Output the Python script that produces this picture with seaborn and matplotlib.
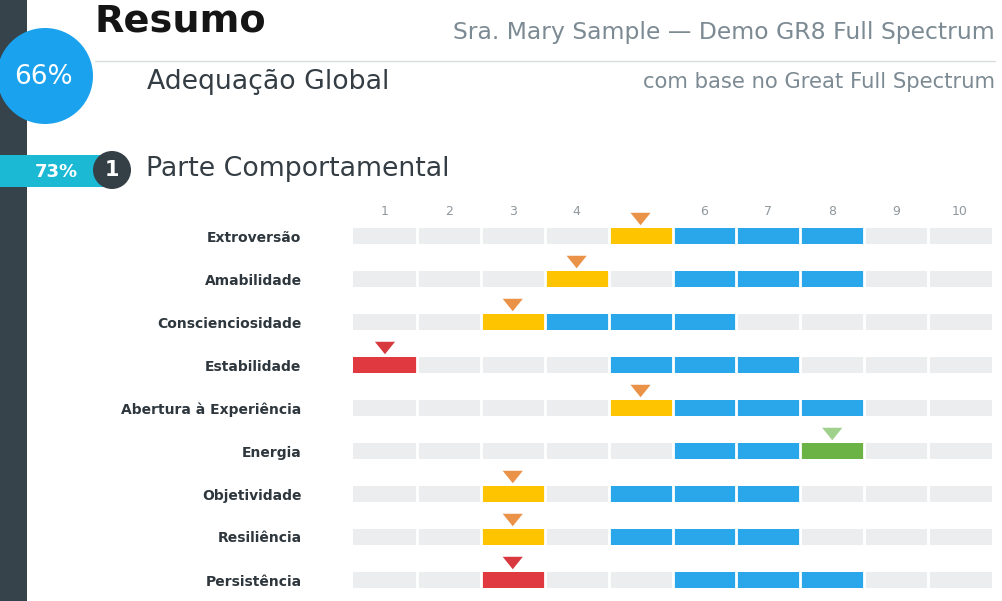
import numpy as np
import pandas as pd
import matplotlib.pyplot as plt
from matplotlib.patches import Circle, Rectangle
import seaborn as sns

# ---- data ----
traits = ['Extroversão', 'Amabilidade', 'Conscienciosidade', 'Estabilidade',
          'Abertura à Experiência', 'Energia', 'Objetividade', 'Resiliência',
          'Persistência']
scores = [5, 4, 3, 1, 5, 8, 3, 3, 3]
ideal_low = [6, 6, 4, 5, 6, 6, 5, 5, 6]
ideal_high = [8, 8, 6, 7, 8, 8, 7, 7, 8]
columns = list(range(1, 11))

overall_pct = '66%'
part_pct = '73%'

# colours
c_grey = '#EBEDEF'
c_blue = '#29A7EA'
c_status = {'ok': '#6BB344', 'near': '#FFC400', 'far': '#E03A40'}
c_tri = {'ok': '#A0D18C', 'near': '#EA9248', 'far': '#D8393F'}
c_dark = '#37434A'
c_text = '#343D43'
c_sub = '#7C8A93'


def status(score, lo, hi):
    d = max(lo - score, score - hi, 0)
    if d == 0:
        return 'ok'
    if d <= 2:
        return 'near'
    return 'far'


stat = [status(s, lo, hi) for s, lo, hi in zip(scores, ideal_low, ideal_high)]

sns.set_style('white')
plt.rcParams['font.family'] = ['DejaVu Sans']

fig = plt.figure(figsize=(10.02, 6.01), dpi=100)

# ---- header / decoration layer in pixel coordinates ----
deco = fig.add_axes([0, 0, 1, 1])
deco.set_xlim(0, 1002)
deco.set_ylim(601, 0)
deco.axis('off')

deco.add_patch(Rectangle((0, 0), 27, 601, color=c_dark, lw=0))
deco.add_patch(Circle((45, 76), 48, color='#1BA2EE', lw=0))
deco.text(43, 77, overall_pct, color='white', fontsize=19, ha='center', va='center')
deco.add_patch(Rectangle((0, 155), 106, 32, color='#1CB9D5', lw=0))
deco.text(56, 172, part_pct, color='white', fontsize=13, fontweight='bold',
          ha='center', va='center')
deco.add_patch(Circle((112, 170), 19, color='#353F46', lw=0))
deco.text(112, 170, '1', color='white', fontsize=15, fontweight='bold',
          ha='center', va='center')

deco.text(95, 22, 'Resumo', color='#151515', fontsize=27.5, fontweight='bold',
          ha='left', va='center')
deco.text(995, 32, 'Sra. Mary Sample — Demo GR8 Full Spectrum', color=c_sub,
          fontsize=16.9, ha='right', va='center')
deco.plot([95, 995], [61, 61], color='#D8DCDF', lw=1)
deco.text(147, 82, 'Adequação Global', color=c_text, fontsize=19.3,
          ha='left', va='center')
deco.text(995, 82, 'com base no Great Full Spectrum', color=c_sub,
          fontsize=15.2, ha='right', va='center')
deco.text(146, 169, 'Parte Comportamental', color=c_text, fontsize=19.3,
          ha='left', va='center')

# ---- chart ----
ax = fig.add_axes([353 / 1002, 0, 639 / 1002, (601 - 196) / 601])
ax.set_facecolor('none')

# draw cells from the right so each shorter bar paints the cell at its end
for k in columns[::-1]:
    pal = {}
    for t, s, lo, hi, st in zip(traits, scores, ideal_low, ideal_high, stat):
        if k == s:
            pal[t] = c_status[st]
        elif lo <= k <= hi:
            pal[t] = c_blue
        else:
            pal[t] = c_grey
    df = pd.DataFrame({'trait': traits, 'len': [k] * len(traits)})
    sns.barplot(data=df, x='len', y='trait', hue='trait', palette=pal,
                width=0.37, saturation=1, legend=False, ax=ax, linewidth=0)

# white gaps between cells
ax.vlines(columns[:-1], -1, len(traits), color='white', lw=2, zorder=3)

# score markers
tri = pd.DataFrame({'x': np.array(scores) - 0.5,
                    'y': np.arange(len(traits)) - 0.395,
                    'trait': traits})
sns.scatterplot(data=tri, x='x', y='y', hue='trait',
                palette={t: c_tri[s] for t, s in zip(traits, stat)},
                marker=[(-1, 0.62), (1, 0.62), (0, -0.62)], s=210,
                linewidth=0, legend=False, ax=ax, zorder=4)

# column numbers (the first row's marker sits over its own column number)
for k in columns:
    if k == scores[0]:
        continue
    ax.text(k - 0.5, -0.56, str(k), color='#8E979D', fontsize=9,
            ha='center', va='center')

ax.set_xlim(0, 10)
ax.set_ylim(len(traits) - 1 + 21 / 43, -40 / 43)
ax.set_xlabel('')
ax.set_ylabel('')
ax.set_xticks([])
ax.tick_params(axis='y', length=0, pad=37, labelsize=10, labelcolor='#2E373D')
for lab in ax.get_yticklabels():
    lab.set_fontweight('bold')
sns.despine(ax=ax, left=True, bottom=True)

plt.savefig('out.png', dpi=100)
